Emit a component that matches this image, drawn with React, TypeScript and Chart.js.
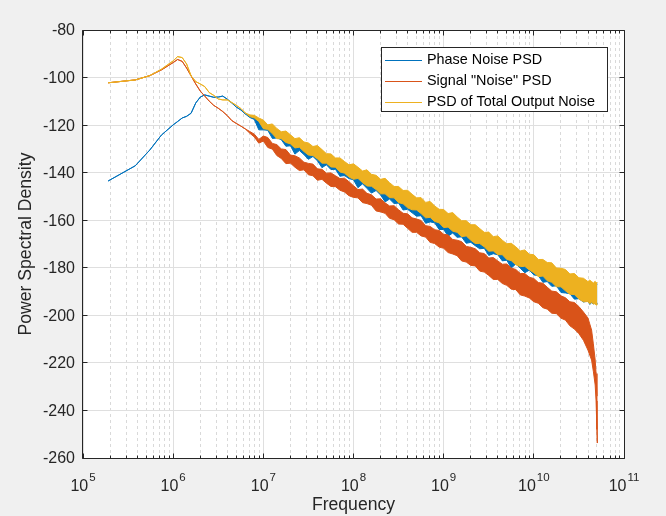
import React, { useEffect, useRef } from 'react';
import { Chart, registerables } from 'chart.js';

Chart.register(...registerables);

// Frequency grid (Hz)
const frequency = [
  1.9e5, 3.8e5, 5.5e5, 7.4e5,
  1.0e6, 1.12e6, 1.26e6, 1.41e6, 1.58e6, 1.78e6, 2.0e6, 2.24e6, 2.51e6, 2.82e6,
  3.16e6, 3.55e6, 3.98e6, 4.47e6, 5.01e6, 5.62e6, 6.31e6, 7.08e6, 7.94e6, 8.91e6,
  1.0e7, 1.12e7, 1.26e7, 1.41e7, 1.58e7, 1.78e7, 2.0e7, 2.24e7, 2.51e7, 2.82e7,
  3.16e7, 3.55e7, 3.98e7, 4.47e7, 5.01e7, 5.62e7, 6.31e7, 7.08e7, 7.94e7, 8.91e7,
  1.0e8, 1.12e8, 1.26e8, 1.41e8, 1.58e8, 1.78e8, 2.0e8, 2.24e8, 2.51e8, 2.82e8,
  3.16e8, 3.55e8, 3.98e8, 4.47e8, 5.01e8, 5.62e8, 6.31e8, 7.08e8, 7.94e8, 8.91e8,
  1.0e9, 1.12e9, 1.26e9, 1.41e9, 1.58e9, 1.78e9, 2.0e9, 2.24e9, 2.51e9, 2.82e9,
  3.16e9, 3.55e9, 3.98e9, 4.47e9, 5.01e9, 5.62e9, 6.31e9, 7.08e9, 7.94e9, 8.91e9,
  1.0e10, 1.12e10, 1.26e10, 1.41e10, 1.58e10, 1.78e10, 2.0e10, 2.24e10, 2.51e10, 2.82e10,
  3.16e10, 3.55e10, 3.98e10, 4.17e10, 4.37e10, 4.57e10, 4.79e10, 4.9e10, 5.01e10, 5.06e10,
];

// Phase Noise PSD: upper / lower edge of the trace
const phaseHi = [
  -143.5, -137.1, -130.5, -124.2,
  -119.9, -118.5, -117.0, -116.3, -115.0, -110.7, -108.2, -107.3, -107.8, -108.3,
  -108.2, -107.8, -109.1, -110.7, -112.4, -113.6, -115.3, -116.2, -116.6, -117.8,
  -118.5, -120.5, -120.1, -122.0, -123.4, -123.1, -124.7, -126.3, -125.9, -127.7,
  -128.1, -129.6, -129.2, -130.9, -132.6, -132.7, -134.4, -134.4, -135.9, -137.3,
  -136.9, -138.3, -139.9, -139.4, -141.3, -141.7, -143.4, -143.0, -144.8, -146.4,
  -146.4, -148.1, -148.0, -149.7, -151.2, -151.1, -153.1, -152.7, -154.6, -156.0,
  -156.1, -157.8, -157.4, -159.2, -160.8, -160.8, -162.5, -162.5, -164.1, -165.7,
  -165.6, -167.5, -167.2, -169.0, -170.5, -170.3, -171.8, -173.5, -173.1, -174.9,
  -175.1, -177.1, -177.1, -178.4, -178.5, -180.7, -180.8, -181.3, -183.2, -183.0,
  -184.8, -185.0, -186.4, -185.8, -186.4, -187.0, -186.3, -187.0, -186.8, -186.8,
];
const phaseLo = [
  -143.5, -137.1, -130.5, -124.2,
  -119.9, -118.5, -117.0, -116.3, -115.0, -110.7, -108.2, -107.3, -107.8, -108.3,
  -108.2, -107.8, -109.1, -110.7, -112.4, -113.6, -115.3, -116.8, -117.6, -122.0,
  -122.0, -122.2, -125.6, -125.4, -126.1, -128.9, -128.7, -132.2, -130.7, -132.4,
  -134.4, -133.2, -135.0, -137.9, -136.7, -138.7, -138.6, -141.5, -141.2, -142.5,
  -143.0, -146.3, -144.7, -146.6, -148.6, -147.5, -149.4, -152.3, -151.1, -153.0,
  -152.8, -155.7, -155.4, -156.9, -158.3, -158.1, -161.3, -160.7, -161.1, -163.9,
  -163.9, -166.7, -165.4, -167.2, -167.0, -169.7, -169.3, -170.7, -172.0, -171.8,
  -174.8, -174.1, -174.5, -177.1, -176.8, -180.1, -178.4, -180.2, -182.1, -181.0,
  -183.0, -183.3, -186.1, -185.8, -187.8, -187.6, -190.4, -190.6, -190.9, -193.2,
  -193.0, -194.4, -194.0, -195.4, -194.7, -195.2, -194.6, -195.5, -194.9, -194.9,
];

// Signal "Noise" PSD
const signalHi = [
  -102.2, -101.0, -99.2, -96.8,
  -93.7, -92.4, -93.2, -96.0, -99.3, -102.7, -105.7, -107.8, -109.9, -111.7,
  -112.9, -114.3, -116.0, -118.1, -119.3, -120.4, -121.6, -122.7, -123.8, -126.0,
  -124.6, -125.2, -127.7, -128.2, -130.0, -130.3, -132.6, -132.9, -133.8, -135.6,
  -136.1, -136.4, -138.4, -138.6, -140.2, -140.1, -141.3, -142.5, -142.3, -143.8,
  -145.5, -147.1, -146.9, -148.7, -149.3, -151.1, -151.0, -152.7, -154.0, -153.9,
  -155.6, -157.1, -157.3, -159.0, -159.5, -160.1, -162.3, -162.6, -164.0, -164.3,
  -165.9, -166.2, -168.1, -168.4, -169.0, -171.0, -171.4, -172.0, -173.7, -174.0,
  -175.9, -175.7, -177.1, -178.5, -178.4, -180.1, -180.7, -182.4, -182.4, -184.0,
  -184.5, -186.2, -186.5, -188.2, -189.8, -190.1, -191.8, -192.6, -194.3, -194.6,
  -196.3, -198.6, -201.1, -203.6, -206.2, -212.0, -218.8, -224.5, -234.0, -253.7,
];
const signalLo = [
  -102.2, -101.0, -99.2, -96.8,
  -93.7, -92.4, -93.2, -96.0, -99.3, -102.7, -105.7, -107.8, -109.9, -111.7,
  -112.9, -114.3, -116.0, -118.1, -119.3, -120.4, -121.6, -123.4, -125.0, -127.6,
  -126.7, -129.4, -130.1, -132.8, -134.0, -136.2, -136.0, -137.7, -139.1, -138.8,
  -140.9, -141.3, -143.2, -142.8, -144.4, -145.8, -145.9, -147.4, -148.1, -149.7,
  -150.4, -150.6, -152.6, -153.0, -153.7, -156.1, -156.5, -157.1, -159.2, -159.8,
  -161.6, -161.7, -163.4, -165.1, -165.1, -166.6, -167.1, -169.3, -169.8, -171.3,
  -171.8, -173.6, -174.2, -174.9, -177.1, -177.6, -179.0, -179.2, -181.4, -181.8,
  -183.2, -184.9, -184.9, -186.6, -187.4, -189.0, -189.2, -191.4, -191.9, -192.7,
  -194.3, -194.9, -196.8, -197.4, -199.1, -199.3, -201.2, -202.0, -204.4, -205.8,
  -207.7, -210.5, -214.6, -216.7, -218.8, -223.5, -229.3, -236.0, -248.0, -253.7,
];

// PSD of Total Output Noise
const totalHi = [
  -102.2, -101.0, -99.2, -96.5,
  -93.0, -91.2, -91.6, -94.3, -99.3, -101.7, -102.7, -103.8, -106.3, -107.5,
  -109.0, -109.4, -109.4, -110.5, -111.7, -113.0, -114.9, -115.7, -115.9, -117.0,
  -117.9, -119.9, -119.5, -121.4, -122.8, -122.5, -124.1, -125.7, -125.3, -127.1,
  -127.5, -129.0, -128.6, -130.3, -132.0, -132.1, -133.8, -133.8, -135.3, -136.7,
  -136.3, -137.7, -139.3, -138.8, -140.7, -141.1, -142.8, -142.4, -144.2, -145.8,
  -145.8, -147.5, -147.4, -149.1, -150.6, -150.5, -152.5, -152.1, -154.0, -155.4,
  -155.5, -157.2, -156.8, -158.6, -160.2, -160.2, -161.9, -161.9, -163.5, -165.1,
  -165.0, -166.9, -166.6, -168.4, -169.9, -169.7, -171.2, -172.9, -172.5, -174.3,
  -174.5, -176.5, -176.5, -177.8, -177.9, -180.1, -180.2, -180.7, -182.6, -182.4,
  -184.2, -184.4, -185.8, -185.2, -185.8, -186.4, -185.7, -186.4, -186.2, -186.2,
];
const totalLo = [
  -102.2, -101.0, -99.2, -96.5,
  -93.0, -91.2, -91.6, -94.3, -99.3, -101.7, -102.7, -103.8, -106.3, -107.5,
  -109.0, -109.4, -109.4, -110.5, -111.7, -113.0, -114.9, -116.4, -117.0, -118.5,
  -121.5, -121.8, -123.6, -125.7, -125.7, -127.3, -127.9, -129.6, -129.3, -131.1,
  -132.6, -132.8, -134.2, -136.0, -136.0, -137.6, -137.7, -139.7, -140.2, -141.8,
  -142.8, -142.4, -144.2, -145.6, -145.7, -147.1, -148.9, -148.9, -150.5, -150.6,
  -152.6, -153.1, -154.8, -155.6, -155.7, -157.2, -159.0, -158.8, -160.5, -161.1,
  -163.1, -162.9, -164.6, -165.1, -166.9, -166.6, -168.4, -169.8, -169.8, -171.2,
  -173.0, -172.9, -174.5, -174.5, -176.5, -177.0, -178.7, -179.5, -179.4, -180.9,
  -182.1, -183.7, -183.5, -185.5, -186.1, -188.0, -188.0, -189.7, -191.1, -191.3,
  -193.1, -194.3, -194.2, -195.1, -194.5, -195.2, -195.1, -195.7, -195.1, -195.1,
];

const seriesNames = ['Phase Noise PSD', 'Signal "Noise" PSD', 'PSD of Total Output Noise'];
const seriesColors = ['#0072BD', '#D95319', '#EDB120'];

const xTickValues = [1e5, 1e6, 1e7, 1e8, 1e9, 1e10, 1e11];
const xTickExponents = ['5', '6', '7', '8', '9', '10', '11'];
const xMinorMultipliers = [2, 3, 4, 5, 6, 7, 8, 9];
const yTickValues = [-260, -240, -220, -200, -180, -160, -140, -120, -100, -80];
const yTickLabels = ['-260', '-240', '-220', '-200', '-180', '-160', '-140', '-120', '-100', '-80'];

const xTitle = 'Frequency';
const yTitle = 'Power Spectral Density';

const FONT = '"Liberation Sans", Arial, Helvetica, sans-serif';
const AXIS_COLOR = '#262626';

function toPoints(ys: number[]) {
  return frequency.map((f, i) => ({ x: f, y: ys[i] }));
}

const matlabAxes = {
  id: 'matlabAxes',
  beforeDraw(chart: any) {
    const { ctx, chartArea: a, scales } = chart;
    const xs = scales.x;
    const ys = scales.y;
    ctx.save();
    ctx.fillStyle = '#F0F0F0';
    ctx.fillRect(0, 0, chart.width, chart.height);
    ctx.fillStyle = '#FFFFFF';
    ctx.fillRect(a.left, a.top, a.right - a.left, a.bottom - a.top);

    // minor x grid (dotted)
    ctx.lineWidth = 1;
    ctx.strokeStyle = '#D9D9D9';
    ctx.setLineDash([3, 3]);
    for (let i = 0; i < xTickValues.length - 1; i++) {
      for (const m of xMinorMultipliers) {
        const x = Math.floor(xs.getPixelForValue(xTickValues[i] * m)) + 0.5;
        ctx.beginPath();
        ctx.moveTo(x, a.top);
        ctx.lineTo(x, a.bottom);
        ctx.stroke();
      }
    }
    ctx.setLineDash([]);
    // major grid
    ctx.strokeStyle = '#DFDFDF';
    for (const v of xTickValues) {
      const x = Math.floor(xs.getPixelForValue(v)) + 0.5;
      ctx.beginPath();
      ctx.moveTo(x, a.top);
      ctx.lineTo(x, a.bottom);
      ctx.stroke();
    }
    for (const v of yTickValues) {
      const y = Math.floor(ys.getPixelForValue(v)) + 0.5;
      ctx.beginPath();
      ctx.moveTo(a.left, y);
      ctx.lineTo(a.right, y);
      ctx.stroke();
    }
    ctx.restore();
  },
  afterDatasetsDraw(chart: any) {
    const { ctx, chartArea: a, scales } = chart;
    const xs = scales.x;
    const ys = scales.y;
    ctx.save();
    const L = a.left - 0.5;
    const T = a.top + 0.5;
    const R = a.right + 0.5;
    const B = a.bottom + 0.5;

    ctx.strokeStyle = AXIS_COLOR;
    ctx.lineWidth = 1;
    ctx.beginPath();
    ctx.moveTo(L, T);
    ctx.lineTo(R, T);
    ctx.lineTo(R, B);
    ctx.lineTo(L, B);
    ctx.closePath();
    ctx.stroke();

    // ticks
    ctx.beginPath();
    for (let i = 0; i < xTickValues.length; i++) {
      const x = Math.floor(xs.getPixelForValue(xTickValues[i])) + 0.5;
      ctx.moveTo(x, B);
      ctx.lineTo(x, B - 5);
      ctx.moveTo(x, T);
      ctx.lineTo(x, T + 5);
      if (i < xTickValues.length - 1) {
        for (const m of xMinorMultipliers) {
          const xm = Math.floor(xs.getPixelForValue(xTickValues[i] * m)) + 0.5;
          ctx.moveTo(xm, B);
          ctx.lineTo(xm, B - 3);
          ctx.moveTo(xm, T);
          ctx.lineTo(xm, T + 3);
        }
      }
    }
    for (const v of yTickValues) {
      const y = Math.floor(ys.getPixelForValue(v)) + 0.5;
      ctx.moveTo(L, y);
      ctx.lineTo(L + 5, y);
      ctx.moveTo(R, y);
      ctx.lineTo(R - 5, y);
    }
    ctx.stroke();

    // y tick labels
    ctx.fillStyle = AXIS_COLOR;
    ctx.font = `16px ${FONT}`;
    ctx.textAlign = 'right';
    ctx.textBaseline = 'middle';
    yTickValues.forEach((v, i) => {
      ctx.fillText(yTickLabels[i], a.left - 8, ys.getPixelForValue(v) + 1);
    });

    // x tick labels 10^n
    ctx.textAlign = 'left';
    ctx.textBaseline = 'alphabetic';
    xTickValues.forEach((v, i) => {
      const cx = xs.getPixelForValue(v);
      ctx.font = `16px ${FONT}`;
      const wBase = ctx.measureText('10').width;
      ctx.font = `11.5px ${FONT}`;
      const wExp = ctx.measureText(xTickExponents[i]).width;
      const start = cx - (wBase + wExp + 1) / 2;
      ctx.font = `16px ${FONT}`;
      ctx.fillText('10', start, a.bottom + 33);
      ctx.font = `11.5px ${FONT}`;
      ctx.fillText(xTickExponents[i], start + wBase + 1, a.bottom + 23);
    });

    // axis titles
    ctx.font = `17.6px ${FONT}`;
    ctx.textAlign = 'center';
    ctx.textBaseline = 'alphabetic';
    ctx.fillText(xTitle, (a.left + a.right) / 2, a.bottom + 52);
    ctx.save();
    ctx.translate(31, (a.top + a.bottom) / 2);
    ctx.rotate(-Math.PI / 2);
    ctx.fillText(yTitle, 0, 0);
    ctx.restore();

    // legend
    const bx = 381.5, by = 47.5, bw = 226, bh = 64;
    ctx.fillStyle = '#FFFFFF';
    ctx.fillRect(bx, by, bw, bh);
    ctx.strokeStyle = AXIS_COLOR;
    ctx.strokeRect(bx, by, bw, bh);
    ctx.font = `14.4px ${FONT}`;
    ctx.textAlign = 'left';
    ctx.textBaseline = 'middle';
    const rows = [60, 81, 102];
    seriesNames.forEach((name, i) => {
      const yy = rows[i] + 0.5;
      ctx.strokeStyle = seriesColors[i];
      ctx.beginPath();
      ctx.moveTo(385, yy);
      ctx.lineTo(422, yy);
      ctx.stroke();
      ctx.fillStyle = '#000000';
      ctx.fillText(name, 427, rows[i] + 0.5);
    });
    ctx.restore();
  },
};

export default function App() {
  const canvasRef = useRef<HTMLCanvasElement | null>(null);

  useEffect(() => {
    const canvas = canvasRef.current;
    if (!canvas) return;
    const mk = (data: number[], color: string, order: number, fill: any, label: string) => ({
      label,
      data: toPoints(data),
      borderColor: color,
      backgroundColor: color,
      borderWidth: 1,
      pointRadius: 0,
      tension: 0,
      fill,
      order,
    });
    const chart = new Chart(canvas, {
      type: 'line',
      data: {
        datasets: [
          mk(phaseHi, seriesColors[0], 3, false, seriesNames[0]),
          mk(phaseLo, seriesColors[0], 3, '-1', seriesNames[0] + ' lo'),
          mk(signalHi, seriesColors[1], 2, false, seriesNames[1]),
          mk(signalLo, seriesColors[1], 2, '-1', seriesNames[1] + ' lo'),
          mk(totalHi, seriesColors[2], 1, false, seriesNames[2]),
          mk(totalLo, seriesColors[2], 1, '-1', seriesNames[2] + ' lo'),
        ],
      },
      options: {
        animation: false,
        responsive: false,
        events: [],
        layout: { padding: { left: 83, top: 30, right: 42, bottom: 58 } },
        scales: {
          x: { type: 'logarithmic', min: 1e5, max: 1e11, display: false },
          y: { type: 'linear', min: -260, max: -80, display: false },
        },
        plugins: {
          legend: { display: false },
          tooltip: { enabled: false },
        },
      },
      plugins: [matlabAxes],
    } as any);
    return () => chart.destroy();
  }, []);

  return (
    <div style={{ position: 'fixed', left: 0, top: 0, width: 666, height: 516, background: '#F0F0F0' }}>
      <canvas ref={canvasRef} width={666} height={516} style={{ display: 'block', width: 666, height: 516 }} />
    </div>
  );
}
